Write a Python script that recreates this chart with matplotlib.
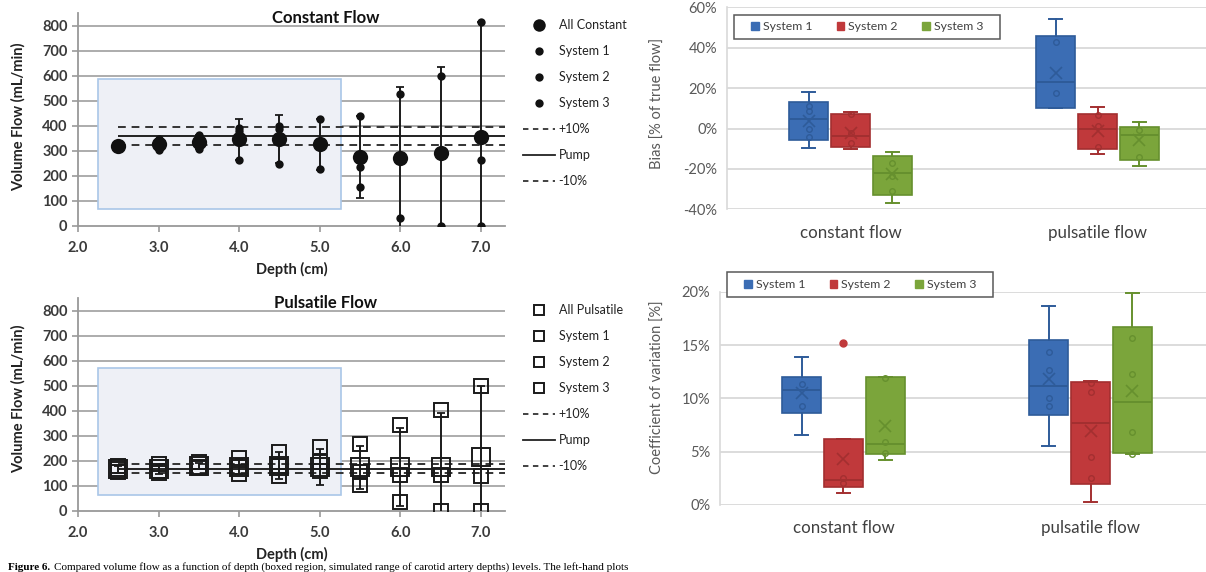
#!/usr/bin/env python3
"""
Volume flow vs depth (constant / pulsatile) and box plots of bias and CV per system
"""

import matplotlib
matplotlib.use('Agg')
import matplotlib.pyplot as plt
from matplotlib.lines import Line2D
from matplotlib.patches import Rectangle, Patch
import numpy as np

plt.rcParams['font.family'] = ['Lato', 'DejaVu Sans']

# ---- left panels: volume flow vs depth ----
depths = [2.5, 3.0, 3.5, 4.0, 4.5, 5.0, 5.5, 6.0, 6.5, 7.0]

const_all = [320, 325, 335, 345, 345, 325, 275, 271, 292, 355]
const_sd = [5, 22, 27, 83, 96, 103, 165, 283, 342, 458]
const_s1 = [322, 348, 361, 391, 398, 425, 438, 526, 598, 813]
const_s2 = [318, 302, 308, 264, 248, 226, 153, 29, 0, 0]
const_s3 = [320, 325, 335, 380, 385, 325, 235, 271, 292, 262]

puls_all = [165, 165, 180, 175, 180, 175, 173, 175, 175, 213]
puls_sd = [15, 18, 12, 30, 55, 73, 85, 155, 216, 285]
puls_s1 = [180, 185, 195, 210, 235, 255, 266, 344, 404, 497]
puls_s2 = [155, 150, 170, 145, 140, 195, 102, 36, 0, 0]
puls_s3 = [165, 160, 175, 175, 180, 160, 155, 142, 142, 138]

pump_const = 360
pump_puls = 168
band = 0.10

region_depth = (2.25, 5.27)
region_const = (67, 587)
region_puls = (62, 571)

# ---- right panels: box plots ----
systems = ['System 1', 'System 2', 'System 3']
flow_types = ['constant flow', 'pulsatile flow']

# each list: [constant, pulsatile] per system
bias_whislo = [[-9.6, 10.0], [-10.0, -12.4], [-36.8, -18.6]]
bias_q1 = [[-5.8, 10.3], [-9.1, -10.3], [-32.7, -15.8]]
bias_med = [[4.5, 23.2], [-3.8, 0.0], [-21.9, -3.3]]
bias_q3 = [[13.3, 45.6], [7.1, 7.1], [-13.6, 0.8]]
bias_whishi = [[17.9, 54.4], [8.3, 10.4], [-11.6, 3.0]]
bias_mean = [[3.5, 27.4], [-2.0, -1.3], [-22.7, -5.8]]
bias_inner = [[[11.0, 8.5, 0.0, -4.0], [42.6, 17.4]],
              [[7.4, -2.0, -7.0], [6.6, 1.2, -9.1]],
              [[-16.9, -23.3, -30.8], [-0.8, -14.1]]]
bias_out = [[[], []], [[], []], [[], []]]

cv_whislo = [[6.6, 5.5], [1.1, 0.3], [4.2, 4.8]]
cv_q1 = [[8.6, 8.4], [1.7, 2.0], [4.8, 4.9]]
cv_med = [[10.8, 11.2], [2.3, 7.7], [5.7, 9.7]]
cv_q3 = [[12.0, 15.5], [6.2, 11.5], [12.0, 16.7]]
cv_whishi = [[13.9, 18.7], [6.2, 11.6], [12.0, 19.9]]
cv_mean = [[10.5, 11.8], [4.3, 6.9], [7.4, 10.7]]
cv_inner = [[[11.3, 9.3], [14.3, 12.7, 10.0, 9.3]],
            [[2.5, 2.1], [11.4, 10.6, 4.5, 2.5]],
            [[11.9, 5.9, 4.9], [15.7, 12.3, 6.8, 4.8]]]
cv_out = [[[], []], [[15.2], []], [[], []]]

sys_face = ['#3b6db4', '#c0393b', '#7ba53b']
sys_edge = ['#2e5b99', '#a32f30', '#66902e']

W, H = 1206, 572
fig = plt.figure(figsize=(W / 100, H / 100), dpi=100)


def flow_panel(ax, all_vals, sd, s1, s2, s3, pump, region_flow, square, title, all_label):
    ax.set_xlim(2.0, 7.3)
    ax.set_ylim(0, 850)
    ax.set_yticks(range(0, 801, 100))
    ax.set_xticks([2, 3, 4, 5, 6, 7])
    ax.set_xticklabels([f'{v:.1f}' for v in [2, 3, 4, 5, 6, 7]])
    for y in range(100, 801, 100):
        ax.axhline(y, color='#a6a6a6', lw=1.3, zorder=0)
    for s in ['top', 'right']:
        ax.spines[s].set_visible(False)
    for s in ['left', 'bottom']:
        ax.spines[s].set_color('#999999')
        ax.spines[s].set_linewidth(1.3)
    ax.tick_params(colors='#999999', length=4, width=1.2, labelsize=10.5,
                   labelcolor='#3a3a3a')
    ax.tick_params(axis='x', pad=7)
    for lab in ax.get_xticklabels() + ax.get_yticklabels():
        lab.set_fontweight('bold')

    ax.add_patch(Rectangle((region_depth[0], region_flow[0]),
                           region_depth[1] - region_depth[0],
                           region_flow[1] - region_flow[0],
                           facecolor='#eef0f6', edgecolor='#a9c6e8', lw=1.2, zorder=0.5))

    ax.hlines(pump * (1 + band), 2.5, 7.3, colors='#333333', linestyles=(0, (4, 3)), lw=1.4, zorder=2)
    ax.hlines(pump, 2.5, 7.3, colors='#222222', lw=1.4, zorder=2)
    ax.hlines(pump * (1 - band), 2.5, 7.3, colors='#333333', linestyles=(0, (4, 3)), lw=1.4, zorder=2)

    if square:
        mk = dict(marker='s', mfc='none', mec='#1a1a1a', mew=1.4)
        big, small = 12.5, 9.5
    else:
        mk = dict(marker='o', mfc='#111111', mec='#111111', mew=0)
        big, small = 11, 6
    ax.errorbar(depths, all_vals, yerr=sd, fmt='none', ecolor='#1a1a1a',
                elinewidth=1.4, capsize=3, capthick=1.3, zorder=3)
    for vals in (s1, s2, s3):
        ax.plot(depths, vals, ls='none', ms=small, zorder=4, **mk)
    ax.plot(depths, all_vals, ls='none', ms=big, zorder=5, **mk)

    ax.text(5.07, 830, title, ha='center', va='center', fontsize=12, fontweight='bold', color='#111111')
    ax.set_xlabel('Depth (cm)', fontsize=10.5, fontweight='bold', labelpad=5, color='#222222')

    lm = 7.5 if square else 6
    handles = [Line2D([], [], ls='none', ms=7.5 if square else 9, **mk),
               Line2D([], [], ls='none', ms=lm, **mk),
               Line2D([], [], ls='none', ms=lm, **mk),
               Line2D([], [], ls='none', ms=lm, **mk),
               Line2D([], [], color='#333333', ls=(0, (3, 2.5)), lw=1.3),
               Line2D([], [], color='#222222', lw=1.3),
               Line2D([], [], color='#333333', ls=(0, (3, 2.5)), lw=1.3)]
    labels = [all_label, 'System 1', 'System 2', 'System 3', '+10%', 'Pump', '-10%']
    ax.legend(handles, labels, loc='upper left', bbox_to_anchor=(1.042, 0.972),
              frameon=False, fontsize=9, handlelength=2.6, handletextpad=0.25,
              labelspacing=1.12, borderaxespad=0, borderpad=0, labelcolor='#222222')


ax_c = fig.add_axes([78 / W, (H - 225.7) / H, 427 / W, 212.7 / H])
flow_panel(ax_c, const_all, const_sd, const_s1, const_s2, const_s3, pump_const,
           region_const, False, 'Constant Flow', 'All Constant')
ax_p = fig.add_axes([78 / W, (H - 510.7) / H, 427 / W, 212.7 / H])
flow_panel(ax_p, puls_all, puls_sd, puls_s1, puls_s2, puls_s3, pump_puls,
           region_puls, True, 'Pulsatile Flow', 'All Pulsatile')

fig.text(18 / W, 1 - 117 / H, 'Volume Flow (mL/min)', rotation=90, ha='center', va='center',
         fontsize=10.5, fontweight='bold', color='#222222')
fig.text(18 / W, 1 - 399 / H, 'Volume Flow (mL/min)', rotation=90, ha='center', va='center',
         fontsize=10.5, fontweight='bold', color='#222222')


def box_panel(ax, whislo, q1, med, q3, whishi, mean, inner, out, ylim, yticks):
    offsets = [-0.17, 0.0, 0.17]
    for i in range(3):
        stats = []
        for j in range(2):
            stats.append(dict(whislo=whislo[i][j], q1=q1[i][j], med=med[i][j], q3=q3[i][j],
                              whishi=whishi[i][j], mean=mean[i][j], fliers=out[i][j]))
        pos = [0.5 + offsets[i], 1.5 + offsets[i]]
        ax.bxp(stats, positions=pos, widths=0.158, capwidths=0.05, patch_artist=True,
               showmeans=True, manage_ticks=False,
               boxprops=dict(facecolor=sys_face[i], edgecolor=sys_edge[i], lw=1.2),
               whiskerprops=dict(color=sys_edge[i], lw=1.4),
               capprops=dict(color=sys_edge[i], lw=1.4),
               medianprops=dict(color=sys_edge[i], lw=1.4),
               meanprops=dict(marker='x', markeredgecolor=sys_edge[i], markersize=8, mew=1.2),
               flierprops=dict(marker='o', markerfacecolor=sys_face[i], markeredgecolor=sys_face[i],
                               markersize=5))
        for j in range(2):
            ax.plot([pos[j]] * len(inner[i][j]), inner[i][j], ls='none', marker='o', ms=4,
                    mfc='none', mec=sys_edge[i], mew=1.0, zorder=5)
    ax.set_xlim(0, 2)
    ax.set_ylim(*ylim)
    ax.set_yticks(yticks)
    ax.set_yticklabels([f'{t}%' for t in yticks])
    ax.set_xticks([0.5, 1.5])
    ax.set_xticklabels(flow_types)
    ax.yaxis.grid(True, color='#d9d9d9', lw=1.3)
    ax.set_axisbelow(True)
    for s in ['top', 'right', 'bottom']:
        ax.spines[s].set_visible(False)
    ax.spines['left'].set_color('#d9d9d9')
    ax.spines['left'].set_linewidth(1.2)
    ax.tick_params(length=0, labelsize=10.5, labelcolor='#595959')
    ax.tick_params(axis='x', labelsize=12.2, labelcolor='#404040', pad=11)
    ax.tick_params(axis='y', pad=7)


def box_legend(x0, y0, x1, y1):
    fig.patches.append(Rectangle((x0 / W, 1 - y1 / H), (x1 - x0) / W, (y1 - y0) / H,
                                 transform=fig.transFigure, facecolor='white',
                                 edgecolor='#595959', lw=1.1, zorder=8))
    handles = [Patch(facecolor=sys_face[i], edgecolor=sys_face[i]) for i in range(3)]
    leg = fig.legend(handles, systems, loc='center',
                     bbox_to_anchor=((x0 + x1) / 2 / W, 1 - (y0 + y1) / 2 / H),
                     ncol=3, frameon=False, fontsize=8.8, handlelength=0.65, handleheight=0.65,
                     handletextpad=0.3, columnspacing=2.0, labelcolor='#404040')
    leg.set_zorder(12)


ax_b = fig.add_axes([727 / W, (H - 209.3) / H, 494 / W, 202 / H])
box_panel(ax_b, bias_whislo, bias_q1, bias_med, bias_q3, bias_whishi, bias_mean,
          bias_inner, bias_out, (-40, 60), [-40, -20, 0, 20, 40, 60])
fig.text(658 / W, 1 - 103 / H, 'Bias [% of true flow]', rotation=90, ha='center', va='center',
         fontsize=10.5, color='#595959')
box_legend(734, 15, 1000, 39)

ax_v = fig.add_axes([720 / W, (H - 505) / H, 494 / W, 213.3 / H])
box_panel(ax_v, cv_whislo, cv_q1, cv_med, cv_q3, cv_whishi, cv_mean,
          cv_inner, cv_out, (0, 20), [0, 5, 10, 15, 20])
fig.text(658 / W, 1 - 387 / H, 'Coefficient of variation [%]', rotation=90, ha='center',
         va='center', fontsize=10.5, color='#595959')
box_legend(727, 272, 993, 297)

# caption line at the bottom edge
fig.text(8 / W, 1 - 571.5 / H, 'Figure 6.', ha='left', va='bottom', fontsize=8,
         fontweight='bold', family='Liberation Serif', color='black')
fig.text(54 / W, 1 - 571.5 / H,
         'Compared volume flow as a function of depth (boxed region, simulated range of carotid artery depths) levels. The left-hand plots',
         ha='left', va='bottom', fontsize=8, family='Liberation Serif', color='black')

plt.savefig('out.png', dpi=100)
